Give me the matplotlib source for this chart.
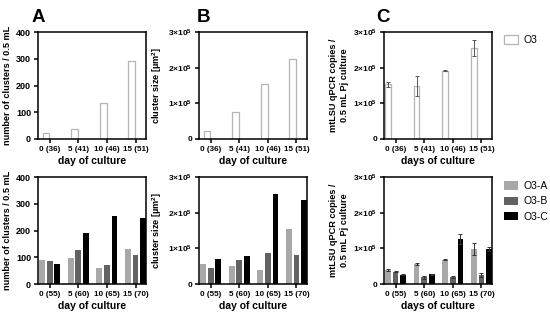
import numpy as np
import matplotlib.pyplot as plt
from matplotlib.ticker import FuncFormatter

plt.rcParams['font.family'] = ['Liberation Sans', 'DejaVu Sans']
plt.rcParams['font.weight'] = 'bold'
plt.rcParams['axes.labelweight'] = 'bold'
plt.rcParams['mathtext.fontset'] = 'custom'
plt.rcParams['mathtext.rm'] = 'Liberation Sans:bold'
plt.rcParams['mathtext.it'] = 'Liberation Sans:bold'
plt.rcParams['mathtext.bf'] = 'Liberation Sans:bold'

# %% data
top_days = ['0 (36)', '5 (41)', '10 (46)', '15 (51)']
bot_days = ['0 (55)', '5 (60)', '10 (65)', '15 (70)']
series = ['O3-A', 'O3-B', 'O3-C']

top_clusters = [22, 37, 134, 290]
top_size = [21500, 77000, 154000, 224000]
top_qpcr = [153000, 149000, 192000, 255000]
top_qpcr_err = [6000, 28000, 1000, 22000]

bot_clusters = {'O3-A': [90, 96, 59, 132],
                'O3-B': [85, 126, 72, 109],
                'O3-C': [74, 193, 256, 248]}
bot_size = {'O3-A': [57000, 51000, 39000, 155000],
            'O3-B': [46000, 67000, 87000, 82000],
            'O3-C': [71000, 78000, 252000, 235000]}
bot_qpcr = {'O3-A': [40000, 56000, 68000, 99000],
            'O3-B': [35000, 19000, 21000, 25000],
            'O3-C': [26000, 27000, 127000, 99000]}
bot_qpcr_err = {'O3-A': [2000, 3000, 1000, 16000],
                'O3-B': [1000, 5000, 3000, 5000],
                'O3-C': [1500, 1500, 14000, 5000]}

colors = {'O3-A': '#a8a8a8', 'O3-B': '#626262', 'O3-C': '#000000'}


def sci(v, pos):
    if v == 0:
        return '0'
    return r'$%d{\times}10^5$' % round(v / 1e5)


def style(ax, ymax, ystep, labels, xlabel, ylabel, scientific=False):
    ax.set_xlim(-0.41, 3.36)
    ax.set_ylim(0, ymax)
    ax.set_yticks(np.arange(0, ymax + 1, ystep))
    ax.set_xticks(range(4))
    ax.set_xticklabels(labels)
    if scientific:
        ax.yaxis.set_major_formatter(FuncFormatter(sci))
    ax.tick_params(axis='x', labelsize=5.8)
    ax.tick_params(axis='y', labelsize=6 if scientific else 6.5)
    ax.tick_params(width=1.1, length=3, pad=2)
    for s in ax.spines.values():
        s.set_linewidth(1.1)
    ax.set_xlabel(xlabel, fontsize=7.5, labelpad=2)
    ax.set_ylabel(ylabel, fontsize=6.6, labelpad=3)


fig = plt.figure(figsize=(5.5, 3.21), dpi=100)
lefts = [0.0691, 0.3618, 0.698]
w = 0.196
h = 0.333
ax_tA = fig.add_axes([lefts[0], 0.567, w, h])
ax_tB = fig.add_axes([lefts[1], 0.567, w, h])
ax_tC = fig.add_axes([lefts[2], 0.567, w, h])
ax_bA = fig.add_axes([lefts[0], 0.115, w, h])
ax_bB = fig.add_axes([lefts[1], 0.115, w, h])
ax_bC = fig.add_axes([lefts[2], 0.115, w, h])

x = np.arange(4)
open_bar = dict(color='white', edgecolor='#b5b5b5', linewidth=0.9)

ax_tA.bar(x - 0.13, top_clusters, 0.24, **open_bar)
ax_tB.bar(x - 0.13, top_size, 0.24, **open_bar)
ax_tC.bar(x - 0.265, top_qpcr, 0.2, label='O3', **open_bar)
ax_tC.errorbar(x - 0.265, top_qpcr, yerr=top_qpcr_err, fmt='none',
               ecolor='#555555', elinewidth=0.7, capsize=1.5, capthick=0.7)

bw = 0.2
for i, s in enumerate(series):
    off = (i - 1) * 0.265
    ax_bA.bar(x + off, bot_clusters[s], bw, color=colors[s])
    ax_bB.bar(x + off, bot_size[s], bw, color=colors[s])
    ax_bC.bar(x + off, bot_qpcr[s], bw, color=colors[s], label=s)
    ax_bC.errorbar(x + off, bot_qpcr[s], yerr=bot_qpcr_err[s], fmt='none',
                   ecolor='#333333', elinewidth=0.7, capsize=1.5, capthick=0.7)

style(ax_tA, 400, 100, top_days, 'day of culture', 'number of clusters / 0.5 mL')
style(ax_tB, 3e5, 1e5, top_days, 'day of culture', r'cluster size [µm$^{2}$]', True)
style(ax_tC, 3e5, 1e5, top_days, 'days of culture',
      'mtLSU qPCR copies /\n0.5 mL Pj culture', True)
style(ax_bA, 400, 100, bot_days, 'day of culture', 'number of clusters / 0.5 mL')
style(ax_bB, 3e5, 1e5, bot_days, 'day of culture', r'cluster size [µm$^{2}$]', True)
style(ax_bC, 3e5, 1e5, bot_days, 'days of culture',
      'mtLSU qPCR copies /\n0.5 mL Pj culture', True)

leg_kw = dict(loc='upper left', frameon=False, handlelength=1.3,
              handleheight=0.9, handletextpad=0.5, labelspacing=0.5,
              borderpad=0.2, prop={'weight': 'normal', 'size': 7.5})
ax_tC.legend(bbox_to_anchor=(1.05, 1.04), **leg_kw)
ax_bC.legend(bbox_to_anchor=(1.05, 1.03), **leg_kw)

for lbl, xp in zip(['A', 'B', 'C'], [0.058, 0.357, 0.684]):
    fig.text(xp, 0.933, lbl, fontsize=13.5, fontweight='bold', ha='left', va='baseline')

fig.savefig('out.png', dpi=100)
